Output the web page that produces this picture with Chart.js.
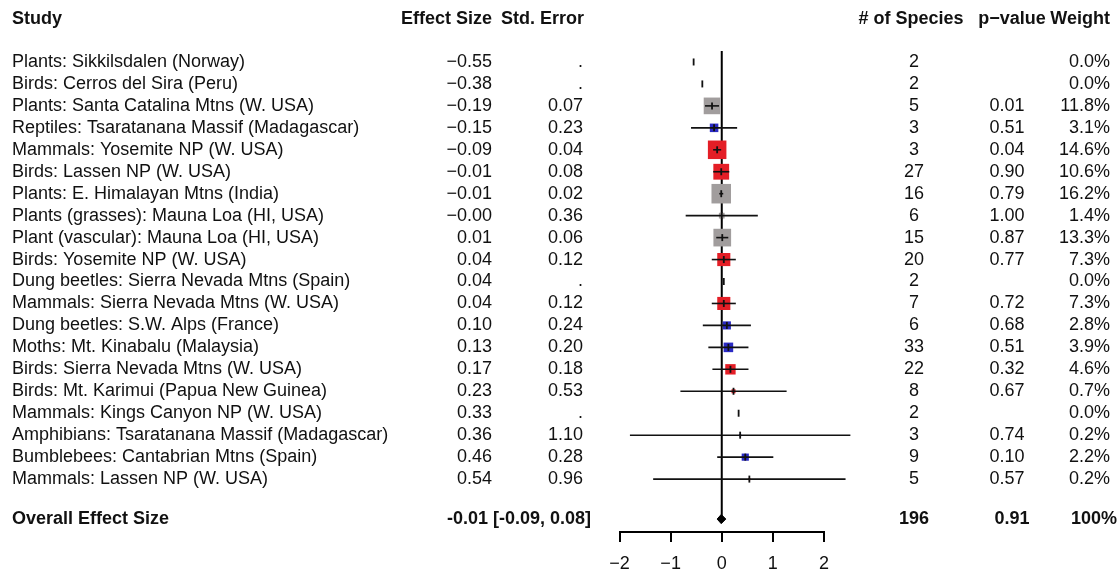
<!DOCTYPE html>
<html>
<head>
<meta charset="utf-8">
<script src="https://cdn.jsdelivr.net/npm/chart.js@4.4.1/dist/chart.umd.min.js"></script>
<style>
  body { margin: 0; background: #fff; }
  #wrap { width: 1120px; height: 576px; }
</style>
</head>
<body>
<div id="wrap"><canvas id="myChart" width="1120" height="576"></canvas></div>
<script>
var studies = [
  "Plants: Sikkilsdalen (Norway)",
  "Birds: Cerros del Sira (Peru)",
  "Plants: Santa Catalina Mtns (W. USA)",
  "Reptiles: Tsaratanana Massif (Madagascar)",
  "Mammals: Yosemite NP (W. USA)",
  "Birds: Lassen NP (W. USA)",
  "Plants: E. Himalayan Mtns (India)",
  "Plants (grasses): Mauna Loa (HI, USA)",
  "Plant (vascular): Mauna Loa (HI, USA)",
  "Birds: Yosemite NP (W. USA)",
  "Dung beetles: Sierra Nevada Mtns (Spain)",
  "Mammals: Sierra Nevada Mtns (W. USA)",
  "Dung beetles: S.W. Alps (France)",
  "Moths: Mt. Kinabalu (Malaysia)",
  "Birds: Sierra Nevada Mtns (W. USA)",
  "Birds: Mt. Karimui (Papua New Guinea)",
  "Mammals: Kings Canyon NP (W. USA)",
  "Amphibians: Tsaratanana Massif (Madagascar)",
  "Bumblebees: Cantabrian Mtns (Spain)",
  "Mammals: Lassen NP (W. USA)"
];
var effectSize = [-0.55, -0.38, -0.19, -0.15, -0.09, -0.01, -0.01, -0, 0.01, 0.04,
                  0.04, 0.04, 0.10, 0.13, 0.17, 0.23, 0.33, 0.36, 0.46, 0.54];
var stdError = [null, null, 0.07, 0.23, 0.04, 0.08, 0.02, 0.36, 0.06, 0.12,
                null, 0.12, 0.24, 0.20, 0.18, 0.53, null, 1.10, 0.28, 0.96];
var numSpecies = [2, 2, 5, 3, 3, 27, 16, 6, 15, 20, 2, 7, 6, 33, 22, 8, 2, 3, 9, 5];
var pValue = [null, null, 0.01, 0.51, 0.04, 0.90, 0.79, 1.00, 0.87, 0.77,
              null, 0.72, 0.68, 0.51, 0.32, 0.67, null, 0.74, 0.10, 0.57];
var weight = [0.0, 0.0, 11.8, 3.1, 14.6, 10.6, 16.2, 1.4, 13.3, 7.3,
              0.0, 7.3, 2.8, 3.9, 4.6, 0.7, 0.0, 0.2, 2.2, 0.2];
var group = ["plant", "endo", "plant", "ecto", "endo", "endo", "plant", "plant", "plant", "endo",
             "ecto", "endo", "ecto", "ecto", "endo", "endo", "endo", "ecto", "ecto", "endo"];
var overall = { est: -0.01, lower: -0.09, upper: 0.08, species: 196, p: 0.91 };
var xTicks = [-2, -1, 0, 1, 2];

var colores = { plant: "#a19d9d", endo: "#e41e26", ecto: "#2a2ac4" };
var OVERALL_ROW = 20.82;
var HEADER_ROW = -1.95;

function fmt(v) {
  var s = Math.abs(v).toFixed(2);
  if (v < 0 || Object.is(v, -0)) s = "\u2212" + s;
  return s;
}

// CI lines, one dataset per study with a std. error
var ciSets = [];
for (var i = 0; i < studies.length; i++) {
  if (stdError[i] == null) continue;
  ciSets.push({
    type: 'line',
    data: [{ x: effectSize[i] - 1.96 * stdError[i], y: i }, { x: effectSize[i] + 1.96 * stdError[i], y: i }],
    borderColor: "#111",
    borderWidth: 1.6,
    pointRadius: 0,
    clip: false,
    order: 1
  });
}

var boxPts = [], boxR = [], boxCol = [], tickPts = [];
for (var i = 0; i < studies.length; i++) {
  boxPts.push({ x: effectSize[i], y: i });
  boxR.push(weight[i] > 0 ? 4.85 * Math.sqrt(weight[i]) / Math.SQRT2 : 0);
  boxCol.push(colores[group[i]]);
  tickPts.push({ x: effectSize[i], y: i });
}

var datasets = [
  {
    type: 'line',
    data: [{ x: 0, y: -0.5 }, { x: 0, y: OVERALL_ROW }],
    borderColor: "#000",
    borderWidth: 2,
    pointRadius: 0,
    clip: false,
    order: 3
  },
  {
    type: 'scatter',
    data: boxPts,
    pointStyle: 'rect',
    pointRadius: boxR,
    pointBackgroundColor: boxCol,
    pointBorderWidth: 0,
    clip: false,
    order: 2
  },
  {
    type: 'scatter',
    data: tickPts,
    pointStyle: 'line',
    pointRotation: 90,
    pointRadius: 3.5,
    pointBorderColor: "#111",
    pointBorderWidth: 1.8,
    clip: false,
    order: 0
  },
  {
    type: 'line',
    data: [
      { x: overall.lower, y: OVERALL_ROW },
      { x: overall.est, y: OVERALL_ROW - 0.21 },
      { x: overall.upper, y: OVERALL_ROW },
      { x: overall.est, y: OVERALL_ROW + 0.21 },
      { x: overall.lower, y: OVERALL_ROW }
    ],
    borderColor: "#000",
    borderWidth: 1,
    backgroundColor: "#000",
    fill: 'shape',
    pointRadius: 0,
    tension: 0,
    clip: false,
    order: 0
  }
].concat(ciSets);

var tablaTexto = {
  id: 'tablaTexto',
  afterDraw: function (chart) {
    var ctx = chart.ctx;
    var y = chart.scales.y;
    var normal = '18px "Liberation Sans", Arial, sans-serif';
    var bold = 'bold 18px "Liberation Sans", Arial, sans-serif';
    ctx.save();
    ctx.fillStyle = "#111";
    ctx.textBaseline = 'middle';

    function txt(s, x, row, align, font) {
      ctx.font = font;
      ctx.textAlign = align;
      ctx.fillText(s, x, y.getPixelForValue(row));
    }

    txt("Study", 12, HEADER_ROW, 'left', bold);
    txt("Effect Size", 492, HEADER_ROW, 'right', bold);
    txt("Std. Error", 584, HEADER_ROW, 'right', bold);
    txt("# of Species", 911, HEADER_ROW, 'center', bold);
    txt("p\u2212value", 1012, HEADER_ROW, 'center', bold);
    txt("Weight", 1110, HEADER_ROW, 'right', bold);

    for (var i = 0; i < studies.length; i++) {
      txt(studies[i], 12, i, 'left', normal);
      txt(fmt(effectSize[i]), 492, i, 'right', normal);
      txt(stdError[i] == null ? "." : stdError[i].toFixed(2), 583, i, 'right', normal);
      txt(String(numSpecies[i]), 914, i, 'center', normal);
      if (pValue[i] != null) txt(pValue[i].toFixed(2), 1007, i, 'center', normal);
      txt(weight[i].toFixed(1) + "%", 1110, i, 'right', normal);
    }

    txt("Overall Effect Size", 12, OVERALL_ROW, 'left', bold);
    txt(overall.est.toFixed(2) + " [" + overall.lower.toFixed(2) + ", " + overall.upper.toFixed(2) + "]",
        591, OVERALL_ROW, 'right', bold);
    txt(String(overall.species), 914, OVERALL_ROW, 'center', bold);
    txt(overall.p.toFixed(2), 1012, OVERALL_ROW, 'center', bold);
    txt("100%", 1117, OVERALL_ROW, 'right', bold);
    ctx.restore();
  }
};

var ctx = document.getElementById('myChart').getContext('2d');
var myChart = new Chart(ctx, {
  type: 'scatter',
  data: { datasets: datasets },
  options: {
    responsive: false,
    animation: false,
    events: [],
    layout: { padding: { left: 619.5, right: 296, top: 51, bottom: 0 } },
    plugins: { legend: { display: false }, tooltip: { enabled: false } },
    scales: {
      x: {
        type: 'linear',
        min: -2,
        max: 2,
        afterBuildTicks: function (axis) { axis.ticks = xTicks.map(function (v) { return { value: v }; }); },
        afterFit: function (axis) { axis.height = 44; },
        grid: { display: true, drawOnChartArea: false, drawTicks: true, tickLength: 10, color: "#000", lineWidth: 2 },
        border: { display: true, color: "#000", width: 2 },
        ticks: {
          padding: 11,
          color: "#111",
          font: { size: 18, family: '"Liberation Sans", Arial, sans-serif' },
          callback: function (v) { return String(v).replace('-', '\u2212'); }
        }
      },
      y: {
        type: 'linear',
        display: false,
        reverse: true,
        min: -0.5,
        max: 21.41
      }
    }
  },
  plugins: [tablaTexto]
});
</script>
</body>
</html>
